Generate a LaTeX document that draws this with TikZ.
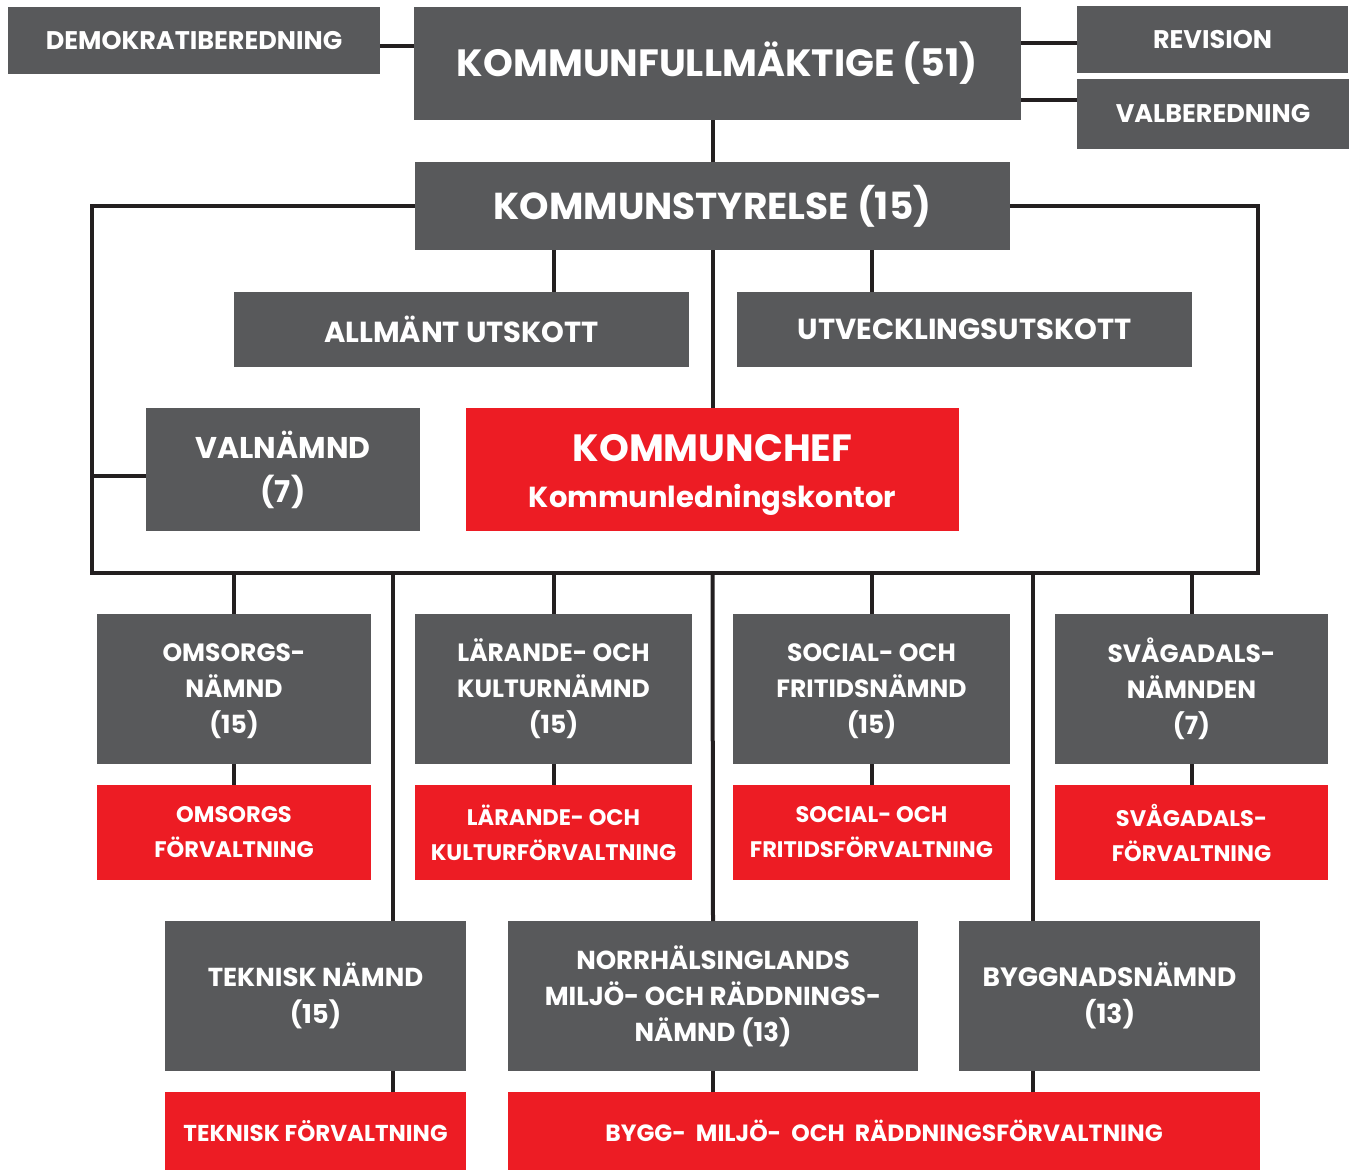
\documentclass[tikz,border=0pt]{standalone}
\usepackage{fontspec}
\setmainfont{Poppins}
\usetikzlibrary{positioning}
\definecolor{boardgray}{HTML}{58595B}
\definecolor{officered}{HTML}{ED1C24}
\definecolor{linkline}{HTML}{231F20}

\begin{document}
\begin{tikzpicture}[x=1pt, y=-1pt, line width=4pt, linkline,
    box/.style={inner sep=0pt, outer sep=0pt, text=white, align=center, font=\bfseries},
    graybox/.style={box, fill=boardgray},
    redbox/.style={box, fill=officered}]
    \useasboundingbox (0,0) rectangle (1352,1171);

    %define the top level
    \node[graybox, minimum width=372pt, minimum height=67pt, font=\bfseries\fontsize{25.5}{30}\selectfont] (demo) at (194,40.5) {DEMOKRATIBEREDNING};
    \node[graybox, minimum width=607pt, minimum height=113pt, font=\bfseries\fontsize{38}{40}\selectfont] (kf) at (717.5,63.5) {KOMMUNFULLMÄKTIGE (51)};
    \node[graybox, minimum width=271pt, minimum height=67pt, font=\bfseries\fontsize{25.5}{30}\selectfont] (rev) at (1212.5,39.5) {REVISION};
    \node[graybox, minimum width=272pt, minimum height=70pt, font=\bfseries\fontsize{25.5}{30}\selectfont] (valb) at (1213,114) {VALBEREDNING};

    %define the board and its committees
    \node[graybox, minimum width=595pt, minimum height=88pt, font=\bfseries\fontsize{37.5}{40}\selectfont] (ks) at (712.5,206) {KOMMUNSTYRELSE (15)};
    \node[graybox, minimum width=455pt, minimum height=75pt, font=\bfseries\fontsize{29}{34}\selectfont] (allm) at (461.5,329.5) {ALLMÄNT UTSKOTT};
    \node[graybox, minimum width=455pt, minimum height=75pt, font=\bfseries\fontsize{29}{34}\selectfont] (utv) at (964.5,329.5) {UTVECKLINGSUTSKOTT};
    \node[graybox, minimum width=274pt, minimum height=123pt, font=\bfseries\fontsize{30}{44}\selectfont] (valn) at (283,469.5) {VALNÄMND\\(7)};
    \node[redbox, minimum width=493pt, minimum height=123pt, font=\bfseries\fontsize{29}{46}\selectfont] (kc) at (712.5,469.5) {\rule{0pt}{38pt}{\fontsize{38}{46}\selectfont KOMMUNCHEF}\\Kommunledningskontor};

    %define the boards and their offices
    \tikzset{row/.style={graybox, minimum height=150pt, font=\bfseries\fontsize{25}{36}\selectfont},
             office/.style={redbox, minimum height=95pt, font=\bfseries\fontsize{22.5}{35}\selectfont}}
    \node[row, minimum width=274pt] (oms) at (234,689) {\rule{0pt}{22pt}OMSORGS-\\NÄMND\\(15)};
    \node[row, minimum width=277pt] (lar) at (553.5,689) {\rule{0pt}{22pt}LÄRANDE- OCH\\KULTURNÄMND\\(15)};
    \node[row, minimum width=277pt] (soc) at (871.5,689) {\rule{0pt}{22pt}SOCIAL- OCH\\FRITIDSNÄMND\\(15)};
    \node[row, minimum width=273pt] (svg) at (1191.5,689) {\rule{0pt}{22pt}SVÅGADALS-\\NÄMNDEN\\(7)};
    \node[office, minimum width=274pt] (omsf) at (234,832.5) {OMSORGS\\FÖRVALTNING};
    \node[office, minimum width=277pt] (larf) at (553.5,832.5) {LÄRANDE- OCH\\KULTURFÖRVALTNING};
    \node[office, minimum width=277pt] (socf) at (871.5,832.5) {SOCIAL- OCH\\FRITIDSFÖRVALTNING};
    \node[office, minimum width=273pt] (svgf) at (1191.5,832.5) {SVÅGADALS-\\FÖRVALTNING};

    \node[row, minimum width=301pt, font=\bfseries\fontsize{26}{37}\selectfont] (tek) at (315.5,996) {TEKNISK NÄMND\\(15)};
    \node[row, minimum width=410pt, font=\bfseries\fontsize{26}{36}\selectfont] (nmr) at (713,996) {NORRHÄLSINGLANDS\\MILJÖ- OCH RÄDDNINGS-\\NÄMND (13)};
    \node[row, minimum width=301pt, font=\bfseries\fontsize{26.5}{37}\selectfont] (bygg) at (1109.5,996) {BYGGNADSNÄMND\\(13)};
    \node[office, minimum width=301pt, minimum height=78pt, font=\bfseries\fontsize{23}{30}\selectfont] (tekf) at (315.5,1131) {TEKNISK FÖRVALTNING};
    \node[office, minimum width=752pt, minimum height=78pt, font=\bfseries\fontsize{23.5}{30}\selectfont] (bmrf) at (884,1131) {BYGG-\ \ MILJÖ-\ \ OCH\ \ RÄDDNINGSFÖRVALTNING};

    %define the links
    \coordinate (tl) at (92,206);
    \coordinate (br) at (1258,573);
    \coordinate (tekx) at (393,573);
    \coordinate (byggx) at (1033,573);
    \draw ([yshift=-5.5pt]demo.east) -- ([yshift=-5.5pt]demo.east -| kf.west);
    \draw ([yshift=-3.5pt]rev.west) -- ([yshift=-3.5pt]rev.west -| kf.east);
    \draw ([yshift=14pt]valb.west) -- ([yshift=14pt]valb.west -| kf.east);
    \draw (kf.south -| ks.north) -- (ks.north);
    \draw[line join=miter] (ks.west) -- (tl) -- (tl |- br) -- (br) -- (br |- tl) -- (ks.east);
    \draw (lar.north |- ks.south) -- (lar.north |- allm.north);
    \draw (soc.north |- ks.south) -- (soc.north |- utv.north);
    \draw (kc.north |- ks.south) -- (kc.north);
    \draw ([yshift=-6.5pt]valn.west) -- ([yshift=-6.5pt]valn.west -| tl);
    \foreach \b in {oms, lar, soc, svg}
        \draw (\b.north |- br) -- (\b.north)
              (\b.south) -- (\b f.north);
    \draw (kc.north |- br) -- (nmr.north);
    \draw (nmr.south) -- (nmr.south |- bmrf.north);
    \draw (tekx) -- (tekx |- tek.north)
          (tekx |- tek.south) -- (tekx |- tekf.north);
    \draw (byggx) -- (byggx |- bygg.north)
          (byggx |- bygg.south) -- (byggx |- bmrf.north);
\end{tikzpicture}
\end{document}
